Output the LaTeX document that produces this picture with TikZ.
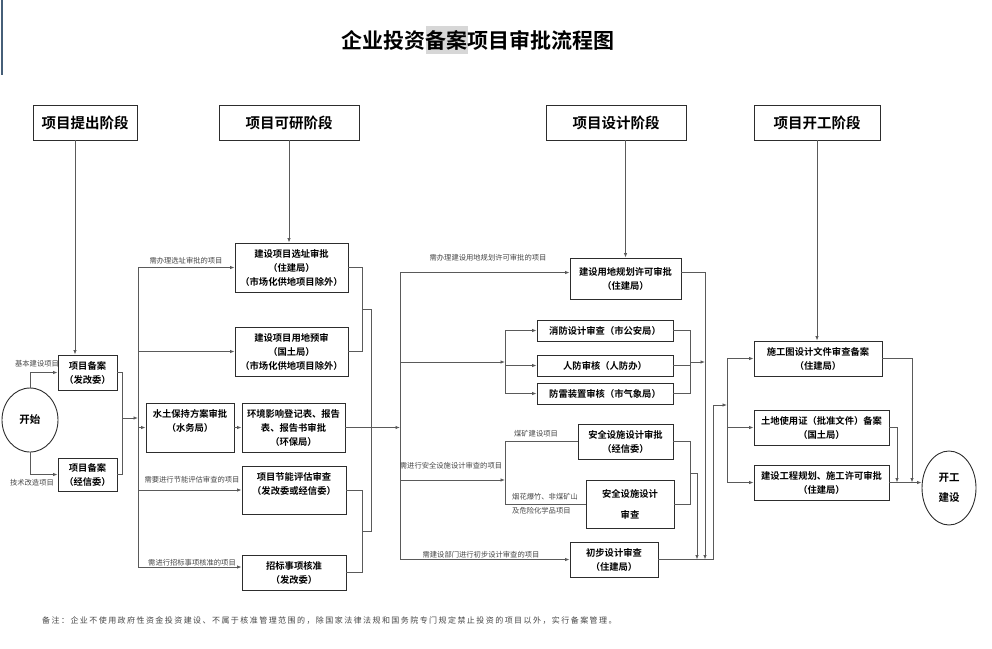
\documentclass[tikz,border=0pt]{standalone}
\usepackage{fontspec}
\setmainfont{Noto Sans CJK SC}[BoldFont={Noto Sans CJK SC Bold}]
\usepackage{tikz}
\usetikzlibrary{arrows.meta, shapes.geometric}
\definecolor{boxC}{RGB}{45,45,45}
\definecolor{lineC}{RGB}{90,90,90}
\definecolor{labC}{RGB}{70,70,70}
\definecolor{hlC}{RGB}{215,215,215}
\definecolor{edgeC}{RGB}{70,95,120}
\tikzset{
  box/.style={draw=boxC, line width=0.9pt, align=center, inner sep=1pt,
    font=\fontsize{9.3}{14}\selectfont\bfseries},
  stagebox/.style={draw=boxC, line width=0.9pt, minimum height=35,
    font=\fontsize{14.5}{16}\selectfont\bfseries},
  oval/.style={ellipse, draw=boxC, line width=0.9pt, align=center, inner sep=0pt,
    font=\fontsize{10.5}{20}\selectfont\bfseries},
  lab/.style={text=labC, inner sep=0pt, font=\fontsize{7.3}{9}\selectfont},
  wire/.style={draw=lineC, line width=0.8pt},
  arr/.style={wire, -{Latex[length=4.5pt,width=3.5pt]}}
}

\begin{document}
\begin{tikzpicture}[x=1pt, y=-1pt]
\useasboundingbox (0,0) rectangle (992,648);
% edge line at the left
\draw[edgeC, line width=1.2pt] (2,0) -- (2,75);
% title
\node (title) at (478,40) {\fontsize{21}{24}\selectfont\bfseries 企业投资{\fboxsep=0pt\colorbox{hlC}{\rule[-5.5pt]{0pt}{28pt}备案}}项目审批流程图};
% stages
\node[stagebox, minimum width=104] (s1) at (85,122.5) {项目提出阶段};
\node[stagebox, minimum width=140] (s2) at (289,122.5) {项目可研阶段};
\node[stagebox, minimum width=140] (s3) at (616,122.5) {项目设计阶段};
\node[stagebox, minimum width=126] (s4) at (817,122.5) {项目开工阶段};
% proposal stage
\node[oval, minimum width=56, minimum height=64] (start) at (30,420) {开始};
\node[box, minimum width=59, minimum height=35] (fgw) at (87.5,372.5) {项目备案\\（发改委）};
\node[box, minimum width=59, minimum height=33] (jxw) at (87.5,474.5) {项目备案\\（经信委）};
% feasibility stage
\node[box, minimum width=113, minimum height=49] (xz) at (291.5,267.5) {建设项目选址审批\\（住建局）\\（市场化供地项目除外）};
\node[box, minimum width=113, minimum height=49] (yd) at (291.5,351.5) {建设项目用地预审\\（国土局）\\（市场化供地项目除外）};
\node[box, minimum width=88, minimum height=49] (stb) at (190,427.5) {水土保持方案审批\\（水务局）\\ \mbox{}};
\node[box, minimum width=103, minimum height=49] (hj) at (293.5,427.5) {环境影响登记表、报告\\表、报告书审批\\（环保局）};
\node[box, minimum width=104, minimum height=48] (jn) at (294,490) {项目节能评估审查\\（发改委或经信委）\\ \mbox{}};
\node[box, minimum width=104, minimum height=35] (zb) at (294,572.5) {招标事项核准\\（发改委）};
% design stage
\node[box, minimum width=111, minimum height=41] (jg) at (625.5,278.5) {建设用地规划许可审批\\（住建局）};
\node[box, minimum width=136, minimum height=21] (xf) at (605,330.5) {消防设计审查（市公安局）};
\node[box, minimum width=136, minimum height=21] (rf) at (605,365.5) {人防审核（人防办）};
\node[box, minimum width=136, minimum height=21] (fl) at (605,393.5) {防雷装置审核（市气象局）};
\node[box, minimum width=95, minimum height=35] (aqA) at (625.5,441.5) {安全设施设计审批\\（经信委）};
\node[box, minimum width=88, minimum height=48] (aqB) at (630,504) {安全设施设计\\[7pt]审查};
\node[box, minimum width=88, minimum height=35] (cb) at (614,559.5) {初步设计审查\\（住建局）};
% construction stage
\node[box, minimum width=128, minimum height=35] (sgt) at (818,358.5) {施工图设计文件审查备案\\（住建局）};
\node[box, minimum width=135, minimum height=35] (td) at (821.5,427.5) {土地使用证（批准文件）备案\\（国土局）};
\node[box, minimum width=135, minimum height=35] (jgh) at (821.5,482.5) {建设工程规划、施工许可审批\\（住建局）};
\node[oval, minimum width=54, minimum height=74] (kgjs) at (949,488) {开工\\建设};

% stage lines
\draw[arr] ([xshift=-10pt]s1.south) -- ([xshift=-10pt]s1.south |- fgw.north);
\draw[arr] (s2.south) -- (s2.south |- xz.north);
\draw[arr] (s3.south -| jg.north) -- (jg.north);
\draw[arr] (s4.south) -- (s4.south |- sgt.north);

% start branches
\draw[arr] (start.north) |- (fgw.west);
\draw[arr] (start.south) |- (jxw.west);
\node[lab] (lb1) at (37,364) {基本建设项目};
\node[lab] (lb2) at (32,483) {技术改造项目};

% into feasibility trunk
\coordinate (m1) at (122,418);
\coordinate (ky) at (138,0);
\draw[wire] (fgw.east) -| (m1);
\draw[wire] (jxw.east) -| (m1);
\draw[arr] (m1) -- (m1 -| ky);
\draw[wire] (xz.west -| ky) -- ([yshift=5.5pt]zb.west -| ky);
\foreach \n in {xz,yd,stb,jn}
  \draw[arr] (\n.west -| ky) -- (\n.west);
\draw[arr] ([yshift=5.5pt]zb.west -| ky) -- ([yshift=5.5pt]zb.west);
\draw[arr] (stb.east) -- (hj.west);
\node[lab] (lb3) at (186,261) {需办理选址审批的项目};
\node[lab] (lb4) at (192,480) {需要进行节能评估审查的项目};
\node[lab] (lb5) at (192,563) {需进行招标事项核准的项目};

% out of feasibility
\coordinate (r1) at (362,309.5);
\coordinate (r2) at (362,531);
\coordinate (sj) at (400,0);
\draw[wire] (xz.east) -| (r1);
\draw[wire] (yd.east) -| (r1);
\draw[wire] (jn.east) -| (r2);
\draw[wire] (zb.east) -| (r2);
\draw[wire] (r1) -- ++(9,0) |- (r2);
\draw[arr] (hj.east) -- (hj.east -| sj);

% design trunk
\coordinate (fb) at (505,0);
\coordinate (p1) at (400,362);
\coordinate (q1) at (505,362);
\coordinate (p2) at (400,480);
\coordinate (q2) at (505,480);
\draw[wire] ([yshift=6pt]jg.west -| sj) -- (cb.west -| sj);
\draw[arr] ([yshift=6pt]jg.west -| sj) -- ([yshift=6pt]jg.west);
\draw[arr] (p1) -- (q1);
\draw[wire] (xf.west -| fb) -- (fl.west -| fb);
\foreach \n in {xf,rf,fl}
  \draw[arr] (\n.west -| fb) -- (\n.west);
\draw[arr] (p2) -- (q2);
\draw[wire] (aqA.west -| fb) -- (aqB.west -| fb);
\draw[wire] (aqA.west -| fb) -- (aqA.west);
\draw[wire] (aqB.west -| fb) -- (aqB.west);
\draw[arr] (cb.west -| sj) -- (cb.west);
\node[lab] (lb6) at (488,258) {需办理建设用地规划许可审批的项目};
\node[lab] (lb7) at (451,466) {需进行安全设施设计审查的项目};
\node[lab] (lb8) at (536,434) {煤矿建设项目};
\node[lab, anchor=west] (lb9) at (512,497) {烟花爆竹、非煤矿山};
\node[lab, anchor=west] (lb10) at (512,511) {及危险化学品项目};
\node[lab] (lb11) at (481,555) {需建设部门进行初步设计审查的项目};

% out of design
\coordinate (d1) at (690,362);
\coordinate (d2) at (690,473);
\coordinate (e1) at (705,559.5);
\coordinate (e2) at (697,559.5);
\coordinate (e3) at (713,405);
\coordinate (kg) at (727,0);
\draw[wire] (xf.east) -| (d1);
\draw[wire] (fl.east) -| (d1);
\draw[wire] (rf.east) -- (rf.east -| d1);
\draw[arr] (d1) -- (d1 -| e1);
\draw[arr] ([yshift=6pt]jg.east) -| (e1);
\draw[wire] (aqA.east) -| (d2);
\draw[wire] (aqB.east) -| (d2);
\draw[arr] (d2) -| (e2);
\draw[wire] (cb.east) -| (e3);
\draw[arr] (e3) -- (e3 -| kg);

% construction trunk
\draw[wire] (sgt.west -| kg) -- (jgh.west -| kg);
\foreach \n in {sgt,td,jgh}
  \draw[arr] (\n.west -| kg) -- (\n.west);
\coordinate (k1) at (912,482.5);
\coordinate (k2) at (897,482.5);
\draw[arr] (sgt.east) -| (k1);
\draw[arr] (td.east) -| (k2);
\draw[arr] (jgh.east) -- (jgh.east -| kgjs.west);

% note
\node[anchor=west, text=labC, inner sep=0pt, font=\fontsize{8}{10}\selectfont\addfontfeature{LetterSpace=18}] (note) at (42,621) {备注：企业不使用政府性资金投资建设、不属于核准管理范围的，除国家法律法规和国务院专门规定禁止投资的项目以外，实行备案管理。};
\end{tikzpicture}
\end{document}
